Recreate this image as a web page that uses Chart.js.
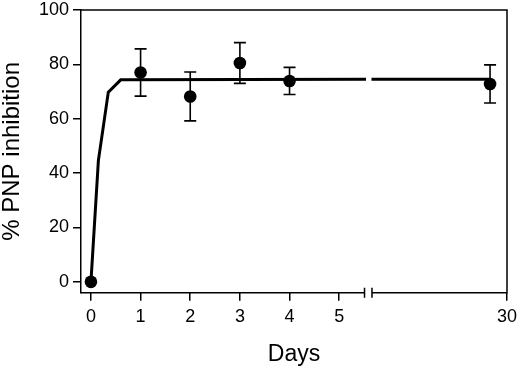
<!DOCTYPE html>
<html>
<head>
<meta charset="utf-8">
<script src="https://cdn.jsdelivr.net/npm/chart.js@4.4.1/dist/chart.umd.min.js"></script>
<style>
  html, body { margin: 0; padding: 0; background: #fff; }
</style>
</head>
<body>
<canvas id="chart" width="520" height="369"></canvas>
<script>
// measured points (mean +/- error)
const days = [0, 1, 2, 3, 4, 28];
const inhibition = [0, 77.0, 68.2, 80.5, 73.9, 72.8];
const errors = [0, 8.7, 9.0, 7.5, 5.0, 7.0];

// fitted curve, null makes the gap at the axis break
const fitDays = [0, 0.15, 0.35, 0.6, 5.54, 5.6, 14, 28];
const fitValues = [0, 44.6, 69.8, 74.3, 74.5, null, 74.5, 74.5];

// tick labels
const xTickDays = [0, 1, 2, 3, 4, 5, 30];
const yTickValues = [0, 20, 40, 60, 80, 100];

// broken x axis: days 0-5 linear, then a compressed part from day 14 to 30
const RIGHT_START = 5.65;
const RIGHT_DAY0 = 14;
const RIGHT_SCALE = 0.1706;
const BREAK_FROM = 5.51;
const BREAK_TO = 5.66;

function toPos(d) {
  if (d < 10) return d;
  return RIGHT_START + (d - RIGHT_DAY0) * RIGHT_SCALE;
}

const fontFamily = "'Liberation Sans', Arial, Helvetica, sans-serif";

// draws the error bars under the dots
const errorBars = {
  id: "errorBars",
  beforeDatasetsDraw(chart) {
    const ctx = chart.ctx;
    const y = chart.scales.y;
    const meta = chart.getDatasetMeta(0);
    ctx.save();
    ctx.strokeStyle = "#000";
    ctx.lineWidth = 1.6;
    meta.data.forEach(function (pt, i) {
      if (!errors[i]) return;
      const top = y.getPixelForValue(inhibition[i] + errors[i]);
      const bottom = y.getPixelForValue(inhibition[i] - errors[i]);
      ctx.beginPath();
      ctx.moveTo(pt.x, top);
      ctx.lineTo(pt.x, bottom);
      ctx.moveTo(pt.x - 6, top);
      ctx.lineTo(pt.x + 6, top);
      ctx.moveTo(pt.x - 6, bottom);
      ctx.lineTo(pt.x + 6, bottom);
      ctx.stroke();
    });
    ctx.restore();
  },
};

// box around the plot, with the break on the bottom axis
const axisFrame = {
  id: "axisFrame",
  afterDatasetsDraw(chart) {
    const ctx = chart.ctx;
    const a = chart.chartArea;
    const x = chart.scales.x;
    const b1 = x.getPixelForValue(BREAK_FROM);
    const b2 = x.getPixelForValue(BREAK_TO);
    ctx.save();
    ctx.strokeStyle = "#000";
    ctx.lineWidth = 1.5;
    ctx.beginPath();
    ctx.moveTo(a.left, a.top);
    ctx.lineTo(a.right, a.top);
    ctx.lineTo(a.right, a.bottom);
    ctx.lineTo(b2, a.bottom);
    ctx.moveTo(b1, a.bottom);
    ctx.lineTo(a.left, a.bottom);
    ctx.moveTo(b1, a.bottom - 5);
    ctx.lineTo(b1, a.bottom + 5);
    ctx.moveTo(b2, a.bottom - 5);
    ctx.lineTo(b2, a.bottom + 5);
    ctx.stroke();
    ctx.restore();
  },
};

const pointData = days.map((d, i) => ({ x: toPos(d), y: inhibition[i] }));
const fitData = fitDays.map((d, i) => ({ x: toPos(d), y: fitValues[i] }));

new Chart(document.getElementById("chart"), {
  type: "scatter",
  data: {
    datasets: [
      {
        label: "measured",
        data: pointData,
        showLine: false,
        pointRadius: 6.3,
        pointBorderWidth: 0,
        backgroundColor: "#000",
        borderColor: "#000",
      },
      {
        label: "fit",
        data: fitData,
        showLine: true,
        spanGaps: false,
        pointRadius: 0,
        borderWidth: 3,
        borderColor: "#000",
        tension: 0,
      },
    ],
  },
  options: {
    responsive: false,
    animation: false,
    layout: { padding: 0 },
    plugins: {
      legend: { display: false },
      tooltip: { enabled: false },
    },
    scales: {
      x: {
        type: "linear",
        min: -0.2,
        max: toPos(30),
        afterBuildTicks(scale) {
          scale.ticks = xTickDays.map((d) => ({ value: toPos(d) }));
        },
        afterFit(scale) {
          scale.height = 76.3;
          scale.paddingRight = 13;
        },
        ticks: {
          color: "#000",
          padding: 7,
          maxRotation: 0,
          autoSkip: false,
          font: { family: fontFamily, size: 18, lineHeight: 1 },
          callback: (value, index) => String(xTickDays[index]),
        },
        grid: {
          drawOnChartArea: false,
          drawTicks: true,
          tickLength: 8,
          color: "#000",
          lineWidth: 1.5,
        },
        border: { display: false },
        title: {
          display: true,
          text: "Days",
          color: "#000",
          padding: { top: 0, bottom: 1 },
          font: { family: fontFamily, size: 23 },
        },
      },
      y: {
        min: -4,
        max: 100,
        afterBuildTicks(scale) {
          scale.ticks = yTickValues.map((v) => ({ value: v }));
        },
        afterFit(scale) {
          scale.width = 81;
          scale.paddingTop = 10;
        },
        ticks: {
          color: "#000",
          padding: 4,
          font: { family: fontFamily, size: 18, lineHeight: 1 },
        },
        grid: {
          drawOnChartArea: false,
          drawTicks: true,
          tickLength: 8,
          color: "#000",
          lineWidth: 1.5,
        },
        border: { display: true, color: "#000", width: 1.5 },
        title: {
          display: true,
          text: "% PNP inhibition",
          color: "#000",
          padding: 0,
          font: { family: fontFamily, size: 24, lineHeight: 1 },
        },
      },
    },
  },
  plugins: [errorBars, axisFrame],
});
</script>
</body>
</html>
